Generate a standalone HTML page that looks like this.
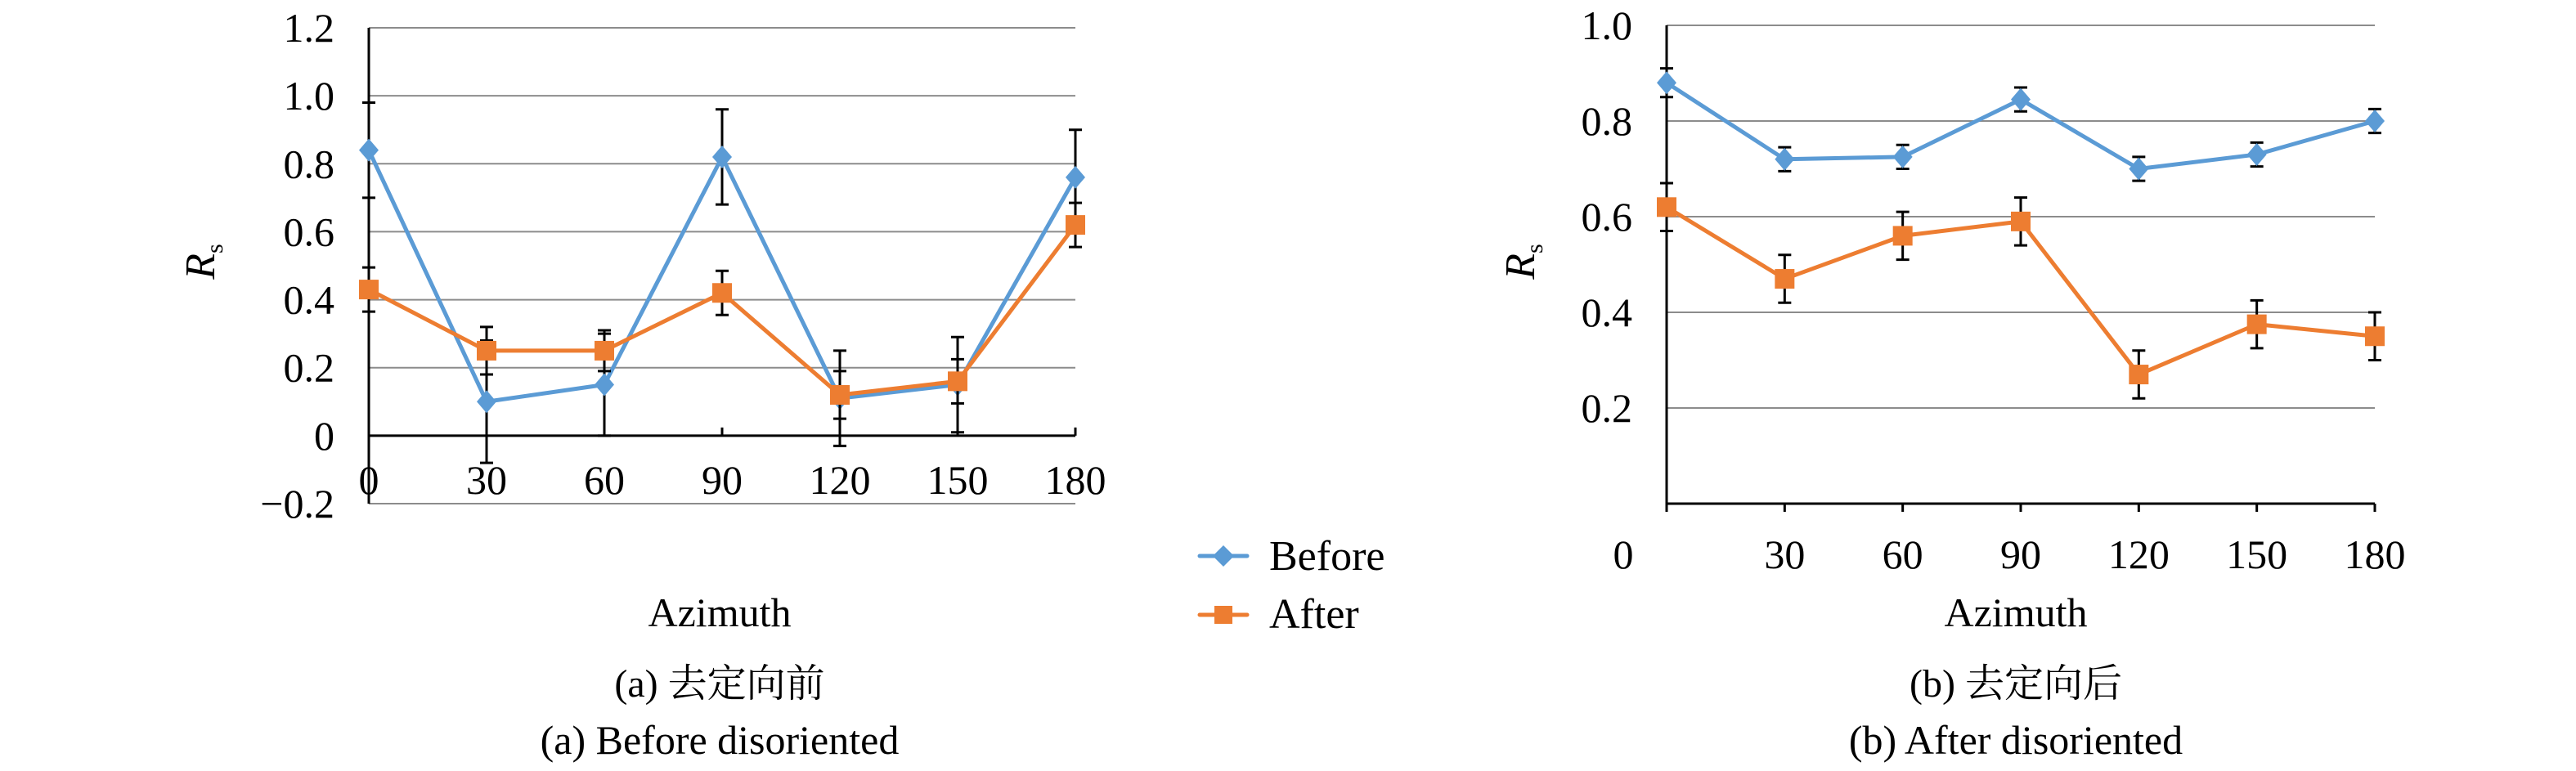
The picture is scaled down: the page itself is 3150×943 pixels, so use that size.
<!DOCTYPE html>
<html><head><meta charset="utf-8"><style>
html,body{margin:0;padding:0;background:#fff;}
svg{display:block;}
svg text{font-family:"Liberation Serif","Noto Serif CJK SC",serif;fill:#000;}
</style></head><body>
<svg id="fig" width="3150" height="943" viewBox="0 0 3150 943" xmlns="http://www.w3.org/2000/svg" font-family="'Liberation Serif', 'Noto Serif CJK SC', serif">
<g id="legend">
 <g>
  <line x1="1467" y1="680" x2="1525" y2="680" stroke="#5b9bd5" stroke-width="5" stroke-linecap="round"/>
  <polygon points="1496,667 1509,680 1496,693 1483,680" fill="#5b9bd5"/>
  <text x="1552" y="697" font-size="52">Before</text>
 </g>
 <g>
  <line x1="1467" y1="752" x2="1525" y2="752" stroke="#ed7d31" stroke-width="5" stroke-linecap="round"/>
  <rect x="1485" y="741" width="22" height="22" fill="#ed7d31"/>
  <text x="1552" y="768" font-size="52">After</text>
 </g>
</g>
</svg>
<script>
// Panel (a)
const categories = [0, 30, 60, 90, 120, 150, 180];
const beforeA = [0.84, 0.10, 0.15, 0.82, 0.11, 0.15, 0.76];
const beforeAErr = [0.14, 0.18, 0.15, 0.14, 0.14, 0.14, 0.14];
const afterA = [0.43, 0.25, 0.25, 0.42, 0.12, 0.16, 0.62];
const afterAErr = [0.065, 0.07, 0.06, 0.065, 0.07, 0.065, 0.065];
const yTicksA = [-0.2, 0, 0.2, 0.4, 0.6, 0.8, 1.0, 1.2];
const yTickLabelsA = ["\u22120.2", "0", "0.2", "0.4", "0.6", "0.8", "1.0", "1.2"];
// Panel (b)
const beforeB = [0.88, 0.72, 0.725, 0.845, 0.70, 0.73, 0.80];
const beforeBErr = [0.03, 0.025, 0.025, 0.025, 0.025, 0.025, 0.025];
const afterB = [0.62, 0.47, 0.56, 0.59, 0.27, 0.375, 0.35];
const afterBErr = [0.05, 0.05, 0.05, 0.05, 0.05, 0.05, 0.05];
const yTicksB = [0.2, 0.4, 0.6, 0.8, 1.0];
const yTickLabelsB = ["0.2", "0.4", "0.6", "0.8", "1.0"];

const NS = "http://www.w3.org/2000/svg";
const svg = document.getElementById('fig');
function mk(tag, attrs, parent){const e=document.createElementNS(NS,tag);for(const k in attrs)e.setAttribute(k,attrs[k]);(parent||svg).appendChild(e);return e;}

function panel(cfg){
  const g = mk('g',{});
  
  
  const xs = v => cfg.x0 + (v - 0) / 180 * (cfg.x1 - cfg.x0);
  const ys = v => cfg.yZero - (v - cfg.yMin) / (cfg.yMax - cfg.yMin) * (cfg.yZero - cfg.yTop);
  cfg.yTicks.forEach((t,i)=>{
    const y = ys(t);
    if (!(cfg.gridSkipZero && t===0)) {
      const l = mk('line',{x1:cfg.x0,x2:cfg.x1,y1:y,y2:y,stroke:'#8c8c8c','stroke-width':2},g);
      
      
    }
    const tx = mk('text',{x:cfg.x0-42,y:y+17,'font-size':50,'text-anchor':'end'},g);
    tx.textContent = cfg.yLabels[i];
    
    
  });
  const ya = mk('line',{x1:cfg.x0,x2:cfg.x0,y1:cfg.yTop,y2:cfg.yZero,stroke:'#000','stroke-width':3},g);
  
  
  const xy = ys(cfg.xAxisAt);
  const xa = mk('line',{x1:cfg.x0,x2:cfg.x1,y1:xy,y2:xy,stroke:'#000','stroke-width':3},g);
  
  
  categories.forEach(c=>{
    const x = xs(c);
    const tk = mk('line',{x1:x,x2:x,y1:xy,y2:xy+cfg.tickDir*10,stroke:'#000','stroke-width':3},g);
    
    
    const lx = (c===0 && cfg.zeroLabelX) ? cfg.zeroLabelX : x;
    const t = mk('text',{x:lx,y:cfg.xLabelY,'font-size':50,'text-anchor':'middle'},g);
    t.textContent = String(c);
    
    
  });
  const series = [
    {vals:cfg.before, err:cfg.beforeErr, color:'#5b9bd5', shape:'diamond', name:'series-before'},
    {vals:cfg.after, err:cfg.afterErr, color:'#ed7d31', shape:'square', name:'series-after'}
  ];
  series.forEach(s=>{
    const sg = mk('g',{},g);
    
    
    const pts = s.vals.map((v,i)=>xs(categories[i])+','+ys(v)).join(' ');
    const pl = mk('polyline',{points:pts,fill:'none',stroke:s.color,'stroke-width':5,'stroke-linejoin':'round'},sg);
    
    
    s.vals.forEach((v,i)=>{
      const x = xs(categories[i]);
      const hi = ys(v + s.err[i]), lo = ys(v - s.err[i]);
      const eb = mk('path',{d:`M${x},${hi}V${lo}M${x-8},${hi}H${x+8}M${x-8},${lo}H${x+8}`,stroke:'#000','stroke-width':3,fill:'none'},sg);
      
      
    });
    s.vals.forEach((v,i)=>{
      const x = xs(categories[i]), y = ys(v);
      let m;
      if (s.shape==='diamond') m = mk('polygon',{points:`${x},${y-14} ${x+12},${y} ${x},${y+14} ${x-12},${y}`,fill:s.color},sg);
      else m = mk('rect',{x:x-12,y:y-12,width:24,height:24,fill:s.color},sg);
      
      
    });
  });
  const rs = mk('text',{x:0,y:0,'font-size':52,'font-style':'italic',transform:`translate(${cfg.rsX},${cfg.rsY}) rotate(-90)`,'text-anchor':'middle'},g);
  rs.innerHTML = 'R<tspan font-size="30" font-style="normal" dy="10">s</tspan>';
  
  
  const az = mk('text',{x:cfg.cx,y:766,'font-size':50,'text-anchor':'middle'},g);
  az.textContent = 'Azimuth';
  
  
  const c1 = mk('text',{x:cfg.cx,y:852,'font-size':48,'text-anchor':'middle'},g);
  c1.textContent = cfg.cap1;
  
  
  const c2 = mk('text',{x:cfg.cx,y:922,'font-size':50,'text-anchor':'middle'},g);
  c2.textContent = cfg.cap2;
  
  
}

panel({name:'chart-a-before-disoriented', x0:451, x1:1315, yTop:34, yZero:616, yMin:-0.2, yMax:1.2,
  yTicks:yTicksA, yLabels:yTickLabelsA, xAxisAt:0, tickDir:-1, xLabelY:604, gridSkipZero:false,
  before:beforeA, beforeErr:beforeAErr, after:afterA, afterErr:afterAErr,
  rsX:262, rsY:320, cx:880, cap1:'(a) 去定向前', cap2:'(a) Before disoriented'});
panel({name:'chart-b-after-disoriented', x0:2038, x1:2904, yTop:31, yZero:616, yMin:0, yMax:1.0,
  yTicks:yTicksB, yLabels:yTickLabelsB, xAxisAt:0, tickDir:1, xLabelY:695, gridSkipZero:true, zeroLabelX:1985,
  before:beforeB, beforeErr:beforeBErr, after:afterB, afterErr:afterBErr,
  rsX:1876, rsY:320, cx:2465, cap1:'(b) 去定向后', cap2:'(b) After disoriented'});
</script>
</body></html>
